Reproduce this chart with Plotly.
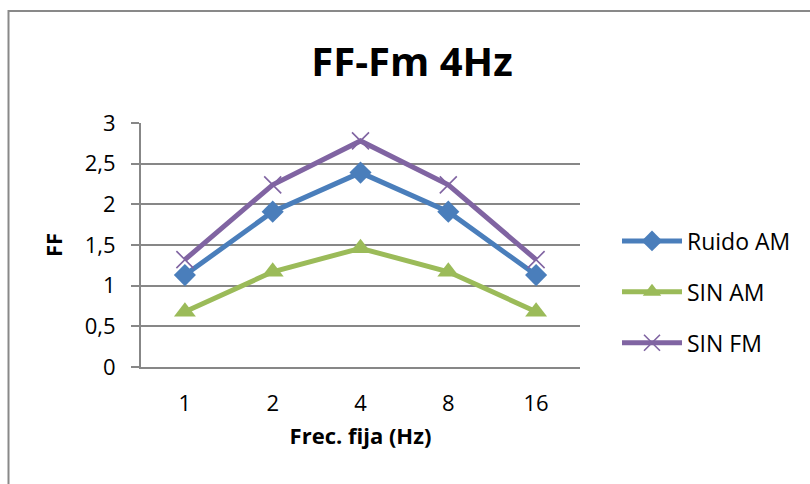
import plotly.graph_objects as go

categories = ["1", "2", "4", "8", "16"]
ruido_am = [1.13, 1.91, 2.39, 1.91, 1.13]
sin_am = [0.68, 1.17, 1.46, 1.17, 0.68]
sin_fm = [1.32, 2.24, 2.78, 2.24, 1.32]
y_ticks = [0, 0.5, 1, 1.5, 2, 2.5, 3]

FONT = "Open Sans"
GRID = "#878787"

fig = go.Figure()
series = [
    ("Ruido AM", ruido_am, "#4A7EBB", dict(symbol="diamond", size=17)),
    ("SIN AM", sin_am, "#9BBB59", dict(symbol="triangle-up", size=19)),
    ("SIN FM", sin_fm, "#8064A2", dict(symbol="x-thin-open", size=17, line=dict(width=1.6))),
]
for i, (name, vals, col, mk) in enumerate(series):
    marker = dict(color=col, **mk)
    if "line" in marker:
        marker["line"]["color"] = col
    fig.add_trace(go.Scatter(
        x=categories, y=vals, name=name, mode="lines+markers",
        line=dict(color=col, width=5), marker=marker,
        legendgroup=f"g{i}",
    ))

L, R, T, B = 141, 230, 123, 117
W, H = 810, 484
pw, ph = W - L - R, H - T - B


def px_to_paper_x(px):
    return (px - L) / pw


def px_to_paper_y(py):
    return (H - B - py) / ph


fig.add_shape(type="rect", xref="paper", yref="paper",
              x0=px_to_paper_x(8.5), x1=px_to_paper_x(815),
              y0=px_to_paper_y(495), y1=px_to_paper_y(11),
              line=dict(color="#898989", width=2), layer="below")

fig.update_layout(
    width=W, height=H,
    margin=dict(l=L, r=R, t=T, b=B),
    paper_bgcolor="white", plot_bgcolor="white",
    separators=", ",
    font=dict(family=FONT, size=22, color="black"),
    title=dict(text="<b>FF-Fm 4Hz</b>", x=px_to_paper_x(412), xref="paper", xanchor="center",
               y=1 - 62 / H, yanchor="middle", font=dict(size=40, family=FONT)),
    showlegend=True,
    legend=dict(x=px_to_paper_x(617), y=px_to_paper_y(292), xanchor="left", yanchor="middle",
                font=dict(size=23, family=FONT), tracegroupgap=18, itemwidth=60,
                bgcolor="rgba(0,0,0,0)"),
    xaxis=dict(type="category", range=[-0.5, 4.5], showgrid=False, showline=True,
               linecolor=GRID, linewidth=2, ticks="", ticklabelstandoff=16,
               tickfont=dict(size=22),
               title=dict(text="<b>Frec. fija (Hz)</b>", font=dict(size=22), standoff=12)),
    yaxis=dict(range=[0, 3], tickvals=y_ticks, showgrid=True, gridcolor=GRID, gridwidth=1.5,
               showline=True, linecolor=GRID, linewidth=2, ticks="outside", ticklen=8,
               tickcolor=GRID, tickwidth=2, ticklabelstandoff=11, zeroline=False,
               tickfont=dict(size=22),
               title=dict(text="<b>FF</b>", font=dict(size=22), standoff=16)),
)

fig.write_html("out.html")
